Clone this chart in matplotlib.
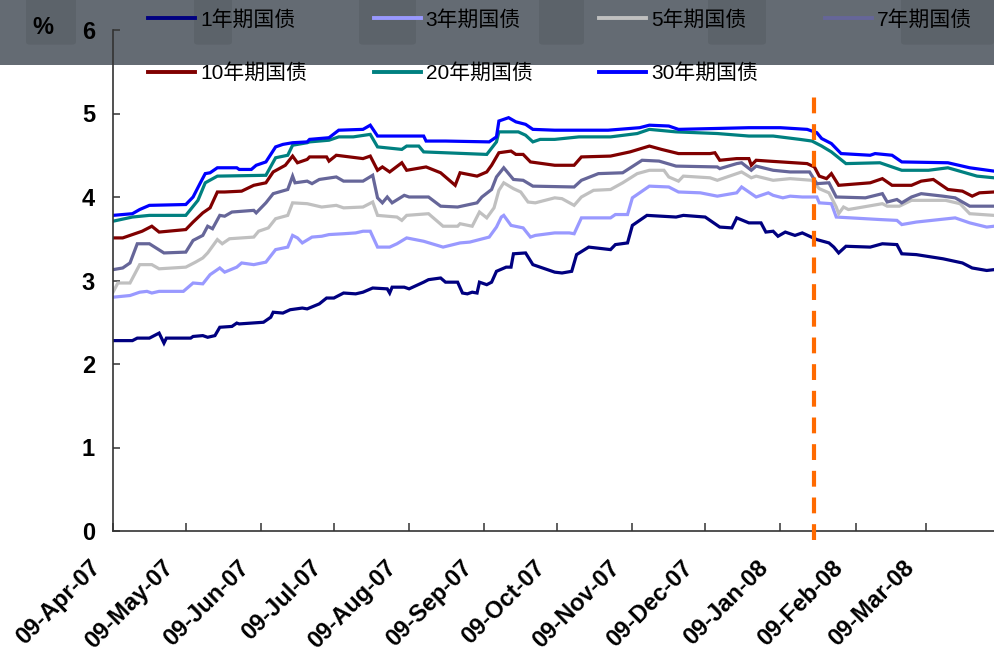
import numpy as np
import matplotlib
matplotlib.use("Agg")
import matplotlib.pyplot as plt
import matplotlib.dates as mdates
import matplotlib.transforms as mtransforms
from matplotlib.patches import Rectangle, FancyBboxPatch

plt.rcParams['font.family'] = ['Liberation Sans', 'Noto Sans CJK SC', 'DejaVu Sans']

# ---- data -------------------------------------------------------------
START = np.datetime64('2007-04-09')
END_DAY = 363                      # last day shown, counted from START
EVENT_DATE = np.datetime64('2008-01-23')

labels = ['1年期国债', '3年期国债', '5年期国债', '7年期国债',
          '10年期国债', '20年期国债', '30年期国债']
colors = ['#000080', '#9999FF', '#C0C0C0', '#666699',
          '#800000', '#008080', '#0000FF']

# days since 2007-04-09, yield in %
days_1y = [0, 8, 10, 15, 19, 21, 22, 32, 33, 37, 39, 42, 44, 49, 51, 52, 62, 65, 66, 70,
           73, 78, 80, 85, 88, 91, 95, 100, 103, 107, 113, 114, 115, 120, 122, 128, 130, 135, 137, 142,
           144, 146, 148, 150, 151, 154, 156, 158, 162, 164, 165, 170, 173, 177, 182, 185, 189, 191, 196, 205,
           207, 212, 214, 220, 232, 235, 244, 250, 255, 257, 262, 267, 269, 272, 274, 277, 281, 284, 290, 295,
           297, 299, 302, 312, 317, 323, 325, 331, 342, 350, 354, 360, 363]
yld_1y = [2.28, 2.28, 2.31, 2.31, 2.37, 2.25, 2.31, 2.31, 2.33, 2.34, 2.32, 2.34, 2.44, 2.45, 2.49, 2.48, 2.50, 2.56, 2.62, 2.61,
          2.65, 2.67, 2.66, 2.72, 2.79, 2.79, 2.85, 2.84, 2.86, 2.91, 2.90, 2.85, 2.92, 2.92, 2.90, 2.98, 3.01, 3.03, 2.98, 2.98,
          2.85, 2.84, 2.86, 2.85, 2.98, 2.95, 2.98, 3.11, 3.16, 3.16, 3.32, 3.33, 3.19, 3.15, 3.10, 3.09, 3.11, 3.31, 3.40, 3.37,
          3.43, 3.45, 3.66, 3.78, 3.76, 3.78, 3.76, 3.64, 3.63, 3.75, 3.69, 3.69, 3.58, 3.59, 3.53, 3.58, 3.54, 3.57, 3.49, 3.45,
          3.40, 3.33, 3.41, 3.40, 3.44, 3.43, 3.32, 3.31, 3.26, 3.21, 3.15, 3.12, 3.13]

days_3y = [0, 7, 11, 14, 16, 19, 29, 33, 37, 40, 44, 46, 51, 53, 58, 63, 67, 72, 74, 76,
           78, 82, 86, 89, 95, 100, 103, 106, 109, 114, 117, 121, 128, 136, 143, 147, 155, 158, 160, 161,
           164, 169, 172, 174, 182, 188, 190, 193, 205, 207, 212, 214, 221, 229, 233, 242, 249, 257, 259, 265,
           270, 272, 276, 279, 284, 290, 291, 296, 298, 316, 323, 325, 331, 347, 353, 360, 363]
yld_3y = [2.80, 2.82, 2.86, 2.87, 2.85, 2.87, 2.87, 2.97, 2.96, 3.07, 3.15, 3.10, 3.16, 3.21, 3.19, 3.22, 3.37, 3.40, 3.54, 3.51,
          3.45, 3.52, 3.53, 3.55, 3.56, 3.57, 3.59, 3.59, 3.40, 3.40, 3.44, 3.51, 3.47, 3.40, 3.45, 3.46, 3.52, 3.64, 3.76, 3.78,
          3.66, 3.63, 3.52, 3.54, 3.57, 3.57, 3.56, 3.75, 3.75, 3.79, 3.79, 3.99, 4.13, 4.12, 4.06, 4.05, 4.01, 4.05, 4.12, 4.00,
          4.05, 4.02, 3.99, 4.01, 4.00, 4.00, 3.93, 3.92, 3.76, 3.73, 3.72, 3.67, 3.70, 3.75, 3.69, 3.64, 3.65]

days_5y = [0, 2, 7, 11, 16, 19, 30, 34, 37, 39, 43, 45, 48, 58, 60, 64, 67, 72, 74, 80,
           86, 92, 95, 103, 107, 109, 117, 119, 121, 130, 136, 142, 143, 148, 151, 154, 157, 159, 161, 165,
           168, 171, 174, 182, 185, 190, 193, 198, 205, 210, 216, 221, 227, 229, 233, 235, 246, 249, 257, 259,
           263, 265, 272, 279, 288, 291, 295, 298, 299, 301, 303, 317, 319, 324, 329, 343, 349, 353, 363]
yld_5y = [2.86, 2.97, 2.97, 3.19, 3.19, 3.14, 3.16, 3.22, 3.27, 3.33, 3.49, 3.44, 3.50, 3.52, 3.59, 3.63, 3.74, 3.78, 3.93, 3.92,
          3.88, 3.90, 3.87, 3.88, 3.94, 3.78, 3.76, 3.72, 3.78, 3.80, 3.65, 3.65, 3.68, 3.65, 3.82, 3.75, 3.87, 4.08, 4.17, 4.10,
          4.06, 3.94, 3.93, 3.99, 3.98, 3.90, 4.00, 4.08, 4.09, 4.17, 4.28, 4.32, 4.32, 4.24, 4.19, 4.25, 4.23, 4.20, 4.28, 4.30,
          4.23, 4.25, 4.20, 4.22, 4.20, 4.10, 4.05, 3.88, 3.80, 3.88, 3.85, 3.92, 3.89, 3.89, 3.96, 3.96, 3.92, 3.80, 3.78]

days_7y = [0, 4, 7, 10, 15, 21, 30, 33, 37, 39, 41, 44, 46, 49, 58, 59, 63, 66, 72, 74,
           75, 80, 82, 85, 92, 95, 103, 107, 109, 111, 113, 115, 120, 122, 130, 135, 142, 150, 152, 156,
           158, 161, 165, 169, 173, 190, 193, 200, 210, 218, 225, 232, 249, 250, 257, 259, 263, 265, 272, 279,
           287, 290, 295, 298, 310, 317, 319, 323, 325, 329, 333, 342, 347, 353, 363]
yld_7y = [3.13, 3.15, 3.21, 3.44, 3.44, 3.33, 3.34, 3.48, 3.54, 3.65, 3.62, 3.78, 3.77, 3.82, 3.84, 3.81, 3.93, 4.04, 4.09, 4.25,
          4.17, 4.19, 4.16, 4.21, 4.24, 4.19, 4.19, 4.26, 3.99, 3.93, 4.00, 3.93, 4.02, 4.00, 4.00, 3.89, 3.88, 3.93, 4.00, 4.09,
          4.24, 4.35, 4.21, 4.20, 4.13, 4.12, 4.20, 4.28, 4.29, 4.44, 4.43, 4.37, 4.36, 4.34, 4.40, 4.41, 4.32, 4.37, 4.32, 4.30,
          4.30, 4.16, 4.17, 4.00, 3.99, 4.04, 3.94, 3.97, 3.93, 4.00, 4.04, 4.01, 3.99, 3.89, 3.89]

days_10y = [0, 4, 7, 12, 16, 19, 30, 33, 37, 40, 43, 46, 53, 58, 63, 66, 71, 74, 76, 80,
            81, 88, 89, 92, 103, 106, 109, 111, 114, 119, 121, 129, 135, 141, 143, 150, 154, 156, 159, 164,
            166, 169, 172, 182, 190, 193, 205, 213, 221, 226, 233, 246, 248, 250, 257, 262, 263, 265, 270, 286,
            289, 291, 294, 296, 299, 312, 317, 321, 329, 333, 338, 344, 350, 354, 357, 363]
yld_10y = [3.51, 3.51, 3.54, 3.59, 3.65, 3.58, 3.61, 3.70, 3.81, 3.87, 4.06, 4.06, 4.07, 4.14, 4.17, 4.30, 4.38, 4.49, 4.41, 4.45,
           4.48, 4.48, 4.43, 4.50, 4.46, 4.49, 4.32, 4.36, 4.30, 4.41, 4.32, 4.36, 4.29, 4.14, 4.29, 4.25, 4.30, 4.38, 4.53, 4.55,
           4.51, 4.51, 4.42, 4.38, 4.38, 4.48, 4.49, 4.54, 4.61, 4.57, 4.52, 4.52, 4.53, 4.44, 4.46, 4.46, 4.38, 4.44, 4.43, 4.40,
           4.36, 4.25, 4.22, 4.28, 4.14, 4.17, 4.22, 4.14, 4.14, 4.19, 4.21, 4.09, 4.07, 4.01, 4.05, 4.06]

days_20y = [0, 8, 15, 30, 35, 38, 43, 63, 67, 72, 74, 80, 81, 89, 93, 99, 106, 109, 119, 121,
            126, 128, 154, 158, 159, 167, 170, 173, 176, 182, 192, 205, 216, 221, 232, 249, 262, 272, 283, 288,
            292, 296, 302, 316, 325, 336, 344, 356, 363]
yld_20y = [3.71, 3.76, 3.78, 3.78, 3.96, 4.17, 4.25, 4.26, 4.47, 4.50, 4.62, 4.65, 4.66, 4.68, 4.72, 4.72, 4.75, 4.60, 4.57, 4.61,
           4.61, 4.54, 4.51, 4.66, 4.78, 4.78, 4.74, 4.66, 4.69, 4.69, 4.72, 4.72, 4.76, 4.81, 4.78, 4.76, 4.73, 4.73, 4.69, 4.67,
           4.61, 4.54, 4.40, 4.41, 4.32, 4.32, 4.35, 4.25, 4.23]

days_30y = [0, 8, 11, 15, 30, 33, 36, 38, 40, 43, 51, 52, 57, 59, 63, 67, 70, 74, 80, 81,
            89, 93, 103, 106, 109, 128, 129, 137, 155, 158, 159, 163, 166, 170, 173, 182, 204, 217, 221, 229,
            233, 262, 275, 286, 290, 292, 296, 300, 312, 314, 321, 325, 344, 353, 363]
yld_30y = [3.78, 3.80, 3.85, 3.90, 3.91, 4.00, 4.17, 4.28, 4.29, 4.35, 4.35, 4.33, 4.33, 4.38, 4.42, 4.60, 4.63, 4.65, 4.66, 4.69,
           4.71, 4.80, 4.81, 4.86, 4.73, 4.73, 4.67, 4.67, 4.66, 4.72, 4.91, 4.95, 4.90, 4.87, 4.81, 4.80, 4.80, 4.83, 4.86, 4.85,
           4.81, 4.83, 4.83, 4.81, 4.77, 4.70, 4.64, 4.52, 4.50, 4.52, 4.50, 4.42, 4.41, 4.35, 4.31]

series_days = [days_1y, days_3y, days_5y, days_7y, days_10y, days_20y, days_30y]
series_vals = [yld_1y, yld_3y, yld_5y, yld_7y, yld_10y, yld_20y, yld_30y]

y_ticks = [0, 1, 2, 3, 4, 5, 6]

# ---- figure -----------------------------------------------------------
W, H = 994, 663
fig = plt.figure(figsize=(W / 100, H / 100), dpi=100, facecolor='white')

# grey banner across the top, with a few soft darker patches
fig.patches.append(Rectangle((0, 1 - 65 / H), 1, 65 / H, transform=fig.transFigure,
                             facecolor='#646b73', edgecolor='none', zorder=-5))
for x0, x1 in [(30, 72), (198, 228), (363, 412), (543, 580), (712, 762), (905, 990)]:
    fig.patches.append(FancyBboxPatch((x0 / W, 1 - 42 / H), (x1 - x0) / W, 42 / H,
                                      boxstyle='round,pad=0.004', transform=fig.transFigure,
                                      facecolor='#000000', alpha=0.07, edgecolor='none', zorder=-4))

ax = fig.add_axes([113 / W, 1 - 531 / H, 1 - 113 / W, (531 - 30) / H])
ax.set_facecolor('none')

lines = []
for d, v, c, lab in zip(series_days, series_vals, colors, labels):
    dates = START + np.array(d).astype('timedelta64[D]')
    ln, = ax.plot(dates, v, color=c, lw=2.3, label=lab, solid_joinstyle='miter')
    lines.append(ln)

ev = EVENT_DATE
ax.plot([ev, ev], [-0.11, 5.32], color='#FF6A00', lw=3.0, dashes=(3.8, 2.6),
        clip_on=False, zorder=5)

ax.set_xlim(START, START + np.timedelta64(END_DAY, 'D'))
ax.set_ylim(0, 6)
ax.set_yticks(y_ticks)

ax.xaxis.set_major_locator(mdates.MonthLocator(bymonthday=9))
ax.xaxis.set_major_formatter(mdates.DateFormatter('%d-%b-%y'))

for s in ['top', 'right']:
    ax.spines[s].set_visible(False)
for s in ['left', 'bottom']:
    ax.spines[s].set_color('#333333')
    ax.spines[s].set_linewidth(1.2)

ax.tick_params(axis='y', direction='in', length=5, width=1.1, color='#333333',
               pad=13, labelsize=17)
ax.tick_params(axis='x', direction='in', length=6, width=1.1, color='#333333',
               pad=8, labelsize=17)
for t in ax.get_yticklabels():
    t.set_fontweight('bold')
shift = mtransforms.ScaledTranslation(-24 / 100, -14 / 100, fig.dpi_scale_trans)
for t in ax.get_xticklabels():
    t.set_fontweight('bold')
    t.set_rotation(45)
    t.set_ha('right')
    t.set_va('top')
    t.set_rotation_mode('anchor')
    t.set_transform(t.get_transform() + shift)

fig.text(43 / W, 1 - 28 / H, '%', fontsize=17, fontweight='bold', ha='center', va='center')

# legend: four columns, second row holds the long-maturity bonds
order = [0, 4, 1, 5, 2, 6, 3]
leg = fig.legend([lines[i] for i in order], [labels[i] for i in order],
                 ncol=4, loc='upper left', bbox_to_anchor=(148 / W, 1 - 10 / H),
                 frameon=False, fontsize=15, handlelength=2.25, handletextpad=0.25,
                 columnspacing=3.2, labelspacing=1.6, borderpad=0, borderaxespad=0)
for h in leg.legend_handles:
    h.set_linewidth(2.8)

fig.savefig('out.png', dpi=100, facecolor='white')
